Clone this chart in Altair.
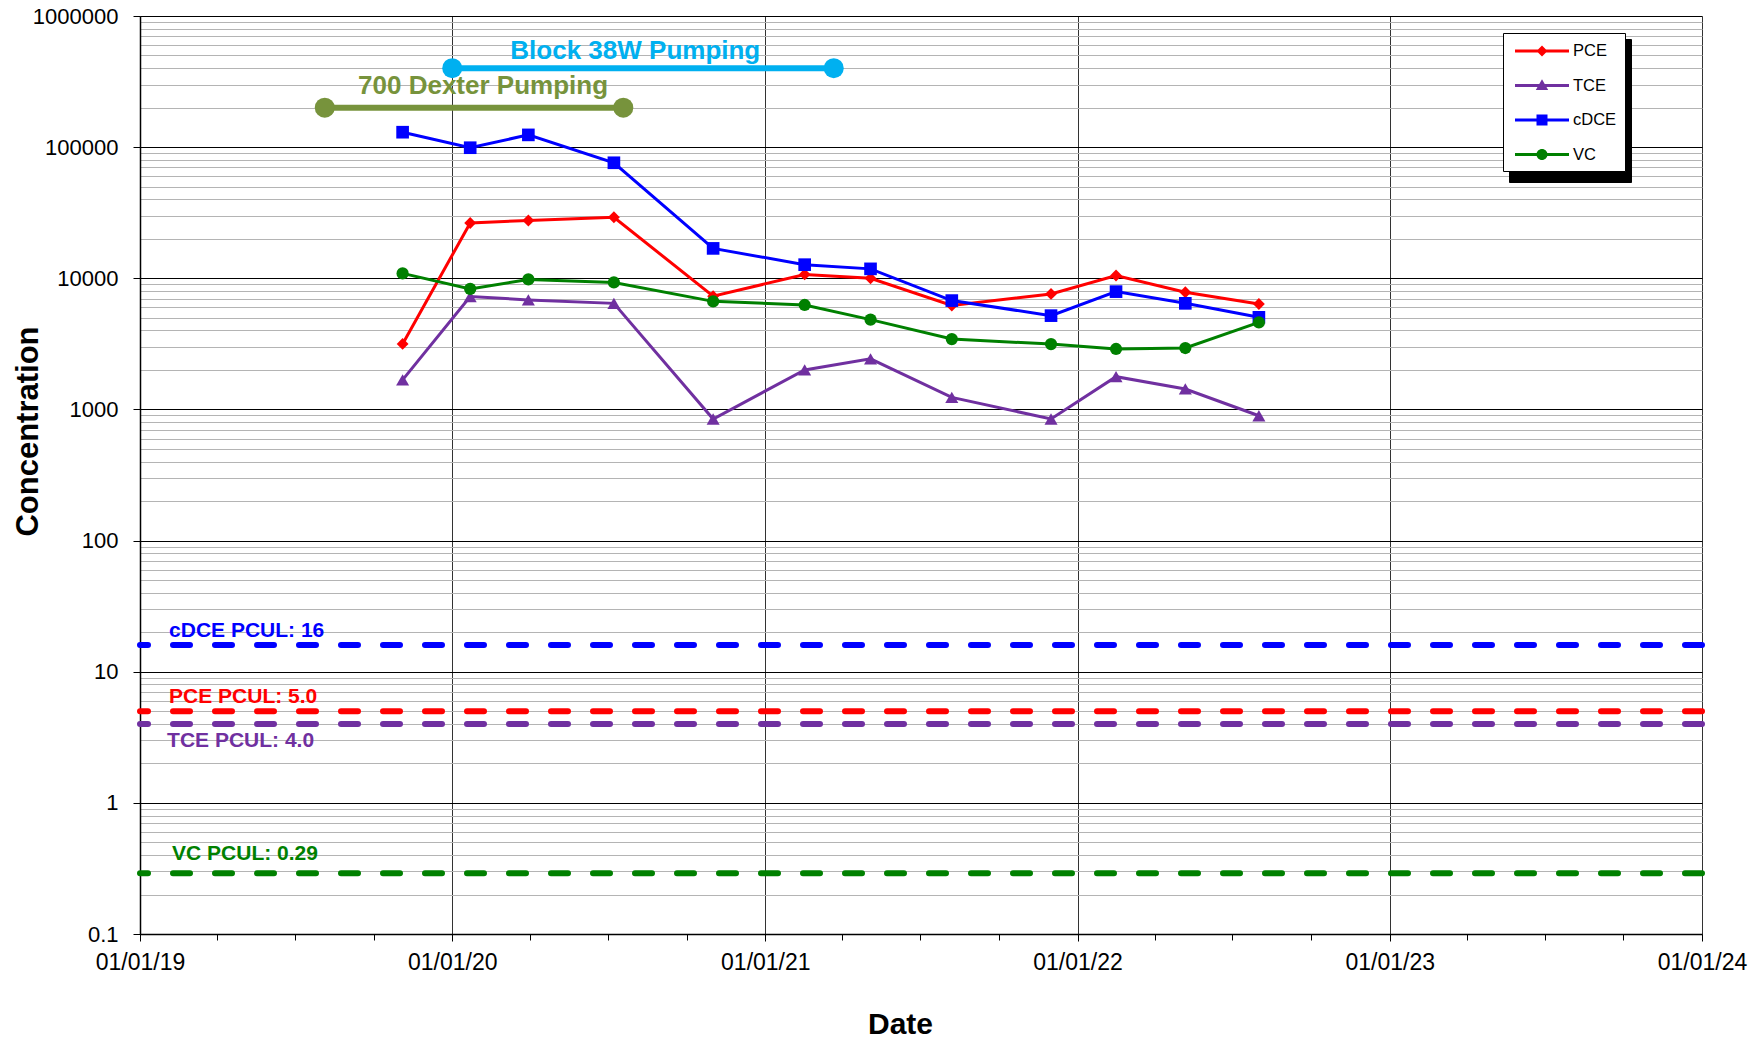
import altair as alt
import pandas as pd

# ---------------- data ----------------
sample_dates = ["2019-11-04", "2020-01-22", "2020-03-30", "2020-07-08", "2020-11-01",
                "2021-02-16", "2021-05-04", "2021-08-07", "2021-12-01", "2022-02-15",
                "2022-05-07", "2022-08-01"]
series_names = ["PCE", "TCE", "cDCE", "VC"]
pce_values = [3160, 26400, 27600, 29200, 7300, 10700, 10000, 6200, 7600, 10500, 7820, 6370]
tce_values = [1680, 7250, 6840, 6440, 845, 2000, 2430, 1236, 845, 1778, 1432, 895]
cdce_values = [130000, 99000, 124000, 76000, 16900, 12700, 11800, 6760, 5190, 7910, 6440, 5040]
vc_values = [10900, 8300, 9800, 9300, 6670, 6260, 4840, 3440, 3150, 2890, 2940, 4610]

pcul_names = ["cDCE PCUL: 16", "PCE PCUL: 5.0", "TCE PCUL: 4.0", "VC PCUL: 0.29"]
pcul_values = [16, 5.0, 4.0, 0.29]

pump_names = ["Block 38W Pumping", "700 Dexter Pumping"]
pump_start = ["2020-01-01", "2019-08-05"]
pump_end = ["2021-03-22", "2020-07-19"]
pump_levels = [400000, 200000]

y_major_ticks = [0.1, 1, 10, 100, 1000, 10000, 100000, 1000000]
x_years = [2019, 2020, 2021, 2022, 2023, 2024]

# ---------------- styles ----------------
FONT = "Liberation Sans"
SERIES_COLORS = ["#FF0000", "#7030A0", "#0000FF", "#008000"]
SERIES_SHAPES = ["diamond", "triangle-up", "square", "circle"]
SERIES_SIZES = [140, 170, 160, 150]
PCUL_COLORS = ["#0000FF", "#FF0000", "#7030A0", "#008000"]
PCUL_DY = [-8, -8, 23, -13]
PCUL_DX = [0, 0, -2, 3]
PCUL_ANCHOR = "datetime(2019, 1, 4)"
PUMP_COLORS = ["#00B0F0", "#77933C"]
PUMP_LABEL_ANCHOR = ["datetime(2020, 7, 2)", "datetime(2020, 1, 6)"]
PUMP_DY = [-9, -14]

LINE = "M-2.7,-0.15L2.7,-0.15L2.7,0.15L-2.7,0.15Z"
LEGEND_PATHS = [
    LINE + "M0,-0.55L0.55,0L0,0.55L-0.55,0Z",
    LINE + "M0,-0.62L0.62,0.45L-0.62,0.45Z",
    LINE + "M-0.55,-0.55L0.55,-0.55L0.55,0.55L-0.55,0.55Z",
    LINE + "M0.55,0A0.55 0.55 0 1 1 -0.55,0A0.55 0.55 0 1 1 0.55,0Z",
]

# ---------------- tables ----------------
rows = []
for name, vals in zip(series_names, [pce_values, tce_values, cdce_values, vc_values]):
    for d, v in zip(sample_dates, vals):
        rows.append({"series": name, "date": d, "value": v})
df = pd.DataFrame(rows)
pcul_df = pd.DataFrame({"name": pcul_names, "value": pcul_values})
pump_df = pd.DataFrame({"name": pump_names, "start": pump_start, "end": pump_end,
                        "level": pump_levels})

# ---------------- scales & axes ----------------
x_scale = alt.Scale(domain=[alt.DateTime(year=x_years[0], month=1, date=1),
                            alt.DateTime(year=x_years[-1], month=1, date=1)])
y_scale = alt.Scale(type="log", domain=[y_major_ticks[0], y_major_ticks[-1]], nice=False)

x_tick_values = [alt.DateTime(year=y, month=m, date=1)
                 for y in x_years[:-1] for m in (1, 4, 7, 10)]
x_tick_values.append(alt.DateTime(year=x_years[-1], month=1, date=1))

y_tick_values = []
for major in y_major_ticks[:-1]:
    for k in range(1, 10):
        y_tick_values.append(major * k)
y_tick_values.append(y_major_ticks[-1])

MAJOR_Y = "abs(log(datum.value)/LN10 - round(log(datum.value)/LN10)) < 1e-6"
MAJOR_X = "month(datum.value) == 0"

x_axis = alt.Axis(
    values=x_tick_values,
    labelExpr=MAJOR_X + " ? timeFormat(datum.value, '%m/%d/%y') : ''",
    labelFont=FONT, labelFontSize=23, labelColor="#000000", labelPadding=10,
    labelFlush=False, labelOverlap=False,
    tickSize={"condition": {"test": MAJOR_X, "value": 7}, "value": 6},
    tickColor="#000000", tickWidth=1,
    domainColor="#000000", domainWidth=1.5,
    grid=True, gridColor="#333333", gridWidth=1,
    gridOpacity={"condition": {"test": MAJOR_X, "value": 1}, "value": 0},
    title="Date", titleFont=FONT, titleFontSize=30, titleFontWeight="bold",
    titleColor="#000000", titleX=760, titleY=99, titleAlign="center",
    titleBaseline="alphabetic", titleAnchor="start",
)
y_axis = alt.Axis(
    values=y_tick_values,
    labelExpr=MAJOR_Y + " ? (datum.value < 1 ? '0.1' : format(datum.value, 'd')) : ''",
    labelFont=FONT, labelFontSize=22, labelColor="#000000", labelPadding=15,
    labelOverlap=False, labelFlush=False,
    tickSize={"condition": {"test": MAJOR_Y, "value": 7}, "value": 0},
    tickColor="#000000",
    domainColor="#000000", domainWidth=1.5,
    grid=True, gridWidth=1,
    gridColor={"condition": {"test": MAJOR_Y, "value": "#000000"}, "value": "#b4b4b4"},
    title="Concentration", titleFont=FONT, titleFontSize=31, titleFontWeight="bold",
    titleColor="#000000", titleX=-112, titleY=415, titleAngle=270,
    titleAlign="center", titleBaseline="middle", titleAnchor="start",
)


def X(field):
    return alt.X(field, scale=x_scale, axis=x_axis)


def Y(field):
    return alt.Y(field, scale=y_scale, axis=y_axis)


layers = []

# PCUL dashed lines and labels
for name, color, dy, dx in zip(pcul_names, PCUL_COLORS, PCUL_DY, PCUL_DX):
    base = alt.Chart(pcul_df).transform_filter(alt.datum.name == name)
    layers.append(base.mark_rule(color=color, strokeWidth=6, strokeDash=[17, 25],
                                 strokeCap="round").encode(y=Y("value:Q")))
    layers.append(base.transform_calculate(anchor=PCUL_ANCHOR).mark_text(
        color=color, font=FONT, fontSize=21, fontWeight="bold", align="left",
        baseline="alphabetic", dy=dy, dx=dx).encode(
        x=X("anchor:T"), y=Y("value:Q"), text="name:N"))

# pumping periods
for name, color, anchor, dy in zip(pump_names, PUMP_COLORS, PUMP_LABEL_ANCHOR, PUMP_DY):
    base = alt.Chart(pump_df).transform_filter(alt.datum.name == name)
    layers.append(base.mark_rule(color=color, strokeWidth=6).encode(
        x=X("start:T"), x2="end:T", y=Y("level:Q")))
    layers.append(base.transform_fold(["start", "end"], as_=["which", "when"]).mark_circle(
        color=color, size=400, opacity=1).encode(x=X("when:T"), y=Y("level:Q")))
    layers.append(base.transform_calculate(anchor=anchor).mark_text(
        color=color, font=FONT, fontSize=26, fontWeight="bold", align="center",
        baseline="alphabetic", dy=dy).encode(
        x=X("anchor:T"), y=Y("level:Q"), text="name:N"))

# series
for name, color, shape, size in zip(series_names, SERIES_COLORS, SERIES_SHAPES, SERIES_SIZES):
    base = alt.Chart(df).transform_filter(alt.datum.series == name)
    layers.append(base.mark_line(color=color, strokeWidth=3).encode(
        x=X("date:T"), y=Y("value:Q")))
    layers.append(base.mark_point(color=color, shape=shape, size=size, filled=True,
                                  opacity=1).encode(x=X("date:T"), y=Y("value:Q")))

# legend shadow and legend
LEG_X, LEG_Y = 1363, 17
common_legend = dict(
    orient="none", title=None, padding=8, symbolSize=400, symbolOffset=21,
    labelFont=FONT, labelFontSize=16.5, rowPadding=15.5, symbolStrokeWidth=0,
)
shadow = alt.Chart(df).transform_filter("false").mark_point(filled=True, opacity=1).encode(
    fill=alt.Fill("series:N",
                  scale=alt.Scale(domain=series_names[::-1], range=["#000000"] * 4),
                  legend=alt.Legend(legendX=LEG_X + 6, legendY=LEG_Y + 6,
                                    fillColor="#000000", strokeColor="#000000",
                                    labelExpr="''", labelOffset=21 + 44,
                                    **common_legend)))
main_legend = alt.Legend(legendX=LEG_X, legendY=LEG_Y, fillColor="#FFFFFF",
                         strokeColor="#000000", labelColor="#000000", labelOffset=21,
                         **common_legend)
legend_layer = alt.Chart(df).transform_filter("false").mark_point(filled=True, opacity=1).encode(
    color=alt.Color("series:N", scale=alt.Scale(domain=series_names, range=SERIES_COLORS),
                    legend=main_legend),
    shape=alt.Shape("series:N", scale=alt.Scale(domain=series_names, range=LEGEND_PATHS),
                    legend=main_legend))
layers.append(shadow)
layers.append(legend_layer)

chart = alt.layer(*layers).properties(
    width=1562, height=918,
    padding={"left": 132, "top": 8, "right": 49, "bottom": 104},
    autosize=alt.AutoSizeParams(type="none"),
    background="#FFFFFF",
).configure_view(stroke=None)

chart.save("out.html", embed_options={"renderer": "svg", "actions": False})
